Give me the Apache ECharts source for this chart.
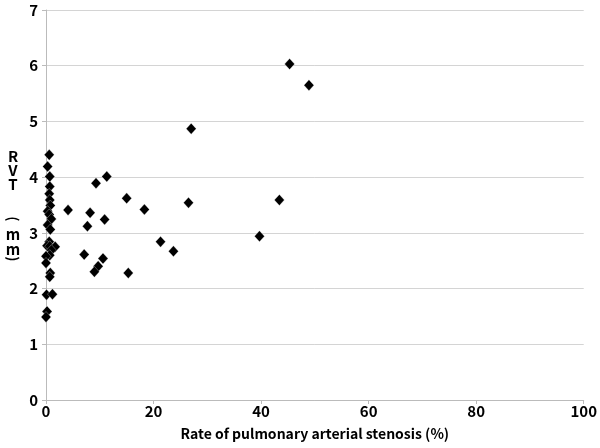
<!DOCTYPE html>
<html>
<head>
<meta charset="utf-8">
<script src="https://cdn.jsdelivr.net/npm/echarts@6/dist/echarts.min.js"></script>
<style>html,body{margin:0;padding:0;background:#fff}#c{width:600px;height:448px}</style>
</head>
<body>
<div id="c"></div>
<script>
var stenosisRate = [0.6,0.3,0.7,0.7,0.6,0.7,0.8,0.3,0.6,1.0,0.3,0.8,0.6,0.2,0.7,1.7,1.0,0.7,0.0,0.0,0.8,0.7,0.1,1.2,0.2,0.0,
  4.1,8.2,7.7,10.9,9.3,11.3,7.1,10.6,9.7,9.0,
  15.0,18.3,26.5,43.4,39.7,21.3,23.7,15.3,45.3,48.9,27.0];
var rvtValues = [4.40,4.19,4.01,3.83,3.70,3.59,3.49,3.39,3.33,3.25,3.14,3.06,2.84,2.77,2.76,2.75,2.69,2.60,2.58,2.46,2.28,2.21,1.89,1.90,1.59,1.49,
  3.41,3.36,3.12,3.24,3.89,4.01,2.61,2.54,2.40,2.30,
  3.62,3.42,3.54,3.59,2.94,2.84,2.67,2.28,6.03,5.65,4.87];
var xTitle = 'Rate of pulmonary arterial stenosis (%)';
var yTitleChars = ['R', 'V', 'T', '(', 'm', 'm', ')'];

var pts = stenosisRate.map(function(x, i){ return [x, rvtValues[i]]; });
var font = '"Noto Sans CJK JP", "DejaVu Sans", sans-serif';

// vertical y-axis title: upright letters, parentheses turned sideways
var yTitleY = [156, 170, 184, 219, 234, 249, 259];
var titleGraphics = yTitleChars.map(function(ch, i){
  var isParen = (ch === '(' || ch === ')');
  return {
    type: 'text', x: 13, y: yTitleY[i],
    rotation: isParen ? -Math.PI / 2 : 0,
    style: {text: ch, fontFamily: font, fontSize: isParen ? 14 : 15, fontWeight: 'bold', fill: '#000',
            align: 'center', verticalAlign: 'middle'}
  };
});

var chart = echarts.init(document.getElementById('c'), null, {renderer:'canvas'});
chart.setOption({
  animation: false,
  backgroundColor: '#fff',
  grid: {left: 46, right: 14, top: 10, bottom: 48, containLabel: false},
  graphic: titleGraphics,
  xAxis: {
    type: 'value', min: 0, max: 100, interval: 20,
    name: xTitle, nameLocation: 'middle', nameGap: 27,
    nameTextStyle: {fontFamily: font, fontSize: 14, fontWeight: 'bold', color: '#000'},
    axisLine: {show: true, lineStyle: {color: '#bbb', width: 1}},
    axisTick: {show: true, length: 4, lineStyle: {color: '#bbb'}},
    axisLabel: {fontFamily: font, fontSize: 15, fontWeight: 'bold', color: '#000', margin: 4},
    splitLine: {show: false}
  },
  yAxis: {
    type: 'value', min: 0, max: 7, interval: 1,
    axisLine: {show: true, lineStyle: {color: '#bbb', width: 1}},
    axisTick: {show: true, length: 4, lineStyle: {color: '#bbb'}},
    axisLabel: {fontFamily: font, fontSize: 15, fontWeight: 'bold', color: '#000', margin: 8},
    splitLine: {show: true, lineStyle: {color: '#d4d4d4', width: 1}}
  },
  series: [{
    type: 'scatter',
    data: pts,
    symbol: 'diamond',
    symbolSize: [10, 11],
    itemStyle: {color: '#000', opacity: 1, borderColor: '#fff', borderWidth: 0.3}
  }]
});
</script>
</body>
</html>
